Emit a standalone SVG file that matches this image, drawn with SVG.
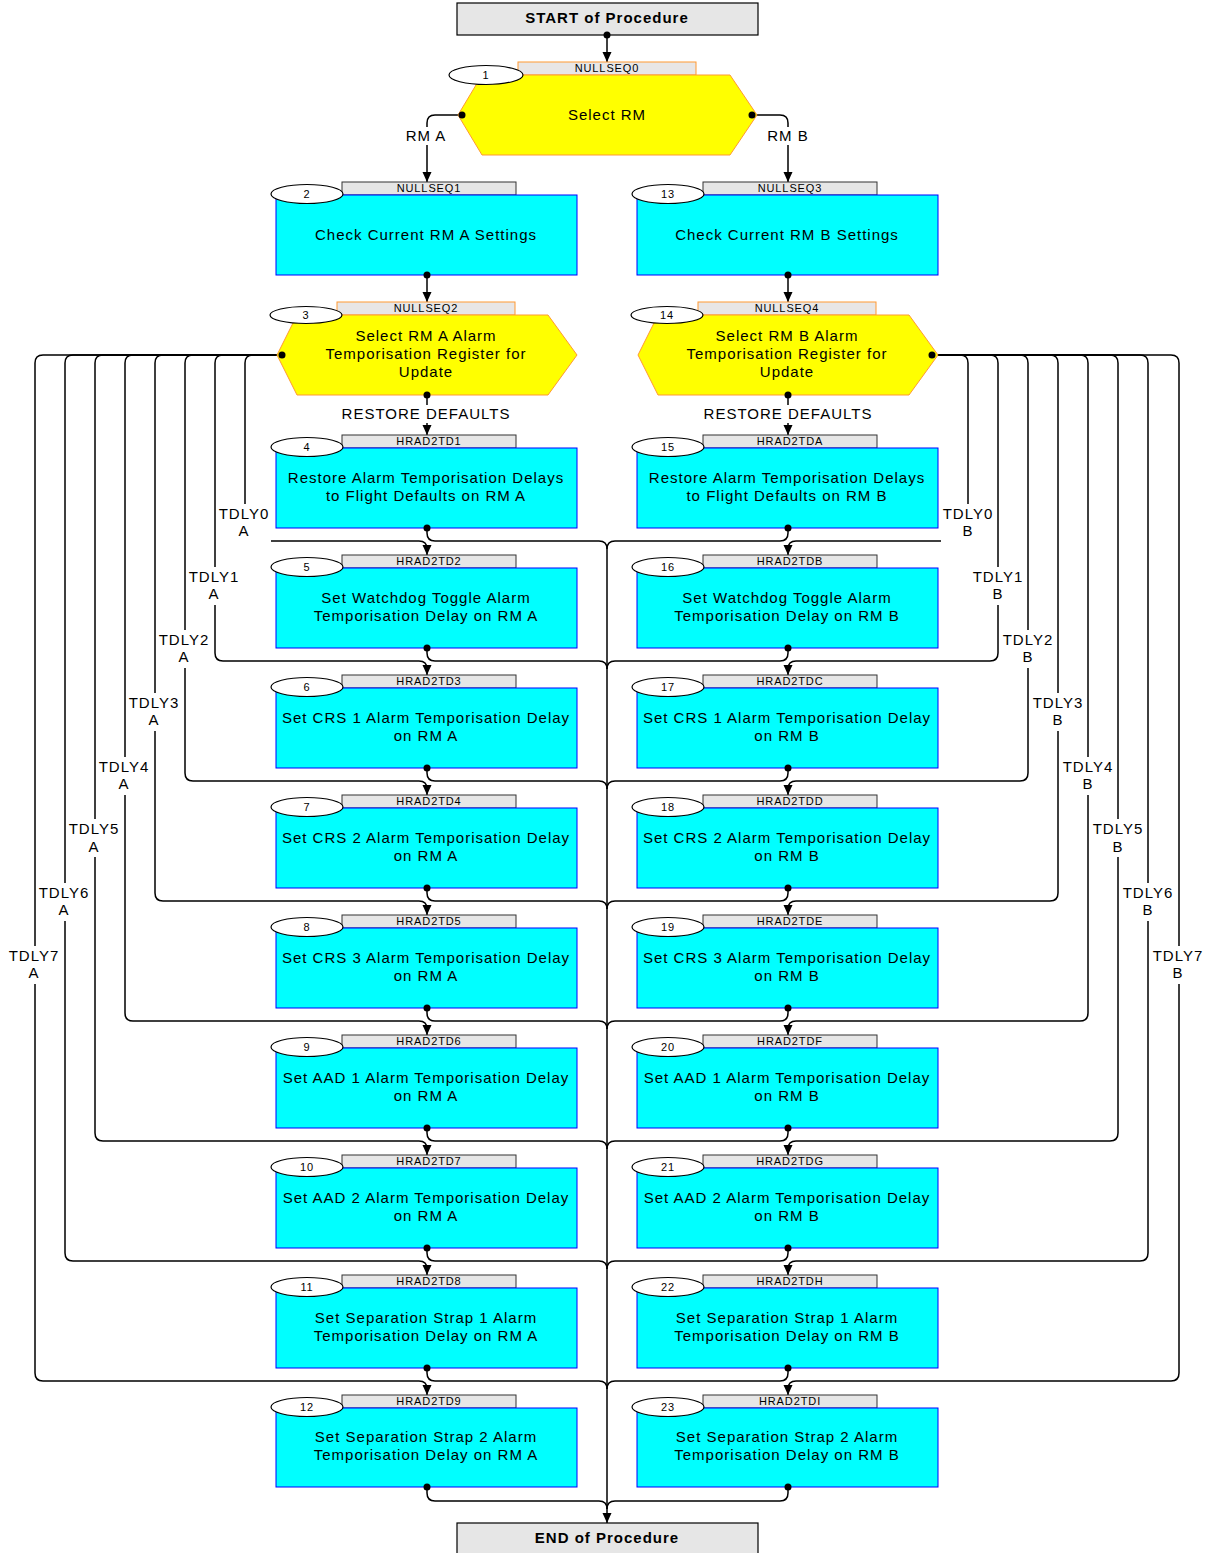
<svg xmlns="http://www.w3.org/2000/svg" width="1211" height="1553" viewBox="0 0 1211 1553">
<defs>
<marker id="ar" markerWidth="10" markerHeight="10" refX="10" refY="5" orient="auto" markerUnits="userSpaceOnUse"><path d="M0,0.5 L10,5 L0,9.5 Z" fill="#000"/></marker>
<style>
.box{fill:#00ffff;stroke:#0000ff;stroke-width:1}
.hex{fill:#ffff00;stroke:#ff9933;stroke-width:1}
.tab{fill:#e6e6e6;stroke:#333;stroke-width:1}
.tabo{fill:#e8e6e6;stroke:#ff9933;stroke-width:1}
.term{fill:#e6e6e6;stroke:#000;stroke-width:1.2}
.num{fill:#fff;stroke:#000;stroke-width:1.2}
text{font-family:"Liberation Sans",Arial,sans-serif;font-size:15px;text-anchor:middle;fill:#000;letter-spacing:1px}
.s{font-size:11px;letter-spacing:0.9px}
.b{font-weight:bold}
.c{fill:none;stroke:#000;stroke-width:1.5}
.a{marker-end:url(#ar)}
.d{fill:#000}
.bg{fill:#fff}
</style>
</defs>
<rect width="1211" height="1553" fill="#fff"/>

<g id="connectors">
<path class="c a" d="M607 35 V62"/>
<path class="c a" d="M462 115 H435 Q427 115 427 123 V182"/>
<path class="c a" d="M752 115 H780 Q788 115 788 123 V182"/>
<path class="c a" d="M427 275 V302"/>
<path class="c a" d="M788 275 V302"/>
<path class="c a" d="M427 395 V435"/>
<path class="c a" d="M788 395 V435"/>
<path class="c a" d="M282 355 H253 Q245 355 245 363 V533 Q245 541 253 541 H419 Q427 541 427 549 V555"/>
<path class="c a" d="M282 355 H223 Q215 355 215 363 V653 Q215 661 223 661 H419 Q427 661 427 669 V675"/>
<path class="c a" d="M282 355 H193 Q185 355 185 363 V773 Q185 781 193 781 H419 Q427 781 427 789 V795"/>
<path class="c a" d="M282 355 H163 Q155 355 155 363 V893 Q155 901 163 901 H419 Q427 901 427 909 V915"/>
<path class="c a" d="M282 355 H133 Q125 355 125 363 V1013 Q125 1021 133 1021 H419 Q427 1021 427 1029 V1035"/>
<path class="c a" d="M282 355 H103 Q95 355 95 363 V1133 Q95 1141 103 1141 H419 Q427 1141 427 1149 V1155"/>
<path class="c a" d="M282 355 H73 Q65 355 65 363 V1253 Q65 1261 73 1261 H419 Q427 1261 427 1269 V1275"/>
<path class="c a" d="M282 355 H43 Q35 355 35 363 V1373 Q35 1381 43 1381 H419 Q427 1381 427 1389 V1395"/>
<path class="c a" d="M932 355 H960 Q968 355 968 363 V533 Q968 541 960 541 H796 Q788 541 788 549 V555"/>
<path class="c a" d="M932 355 H990 Q998 355 998 363 V653 Q998 661 990 661 H796 Q788 661 788 669 V675"/>
<path class="c a" d="M932 355 H1020 Q1028 355 1028 363 V773 Q1028 781 1020 781 H796 Q788 781 788 789 V795"/>
<path class="c a" d="M932 355 H1050 Q1058 355 1058 363 V893 Q1058 901 1050 901 H796 Q788 901 788 909 V915"/>
<path class="c a" d="M932 355 H1080 Q1088 355 1088 363 V1013 Q1088 1021 1080 1021 H796 Q788 1021 788 1029 V1035"/>
<path class="c a" d="M932 355 H1110 Q1118 355 1118 363 V1133 Q1118 1141 1110 1141 H796 Q788 1141 788 1149 V1155"/>
<path class="c a" d="M932 355 H1140 Q1148 355 1148 363 V1253 Q1148 1261 1140 1261 H796 Q788 1261 788 1269 V1275"/>
<path class="c a" d="M932 355 H1171 Q1179 355 1179 363 V1373 Q1179 1381 1171 1381 H796 Q788 1381 788 1389 V1395"/>
<path class="c" d="M427 528 V533 Q427 541 435 541 H599 Q607 541 607 549"/>
<path class="c" d="M427 648 V653 Q427 661 435 661 H599 Q607 661 607 669"/>
<path class="c" d="M427 768 V773 Q427 781 435 781 H599 Q607 781 607 789"/>
<path class="c" d="M427 888 V893 Q427 901 435 901 H599 Q607 901 607 909"/>
<path class="c" d="M427 1008 V1013 Q427 1021 435 1021 H599 Q607 1021 607 1029"/>
<path class="c" d="M427 1128 V1133 Q427 1141 435 1141 H599 Q607 1141 607 1149"/>
<path class="c" d="M427 1248 V1253 Q427 1261 435 1261 H599 Q607 1261 607 1269"/>
<path class="c" d="M427 1368 V1373 Q427 1381 435 1381 H599 Q607 1381 607 1389"/>
<path class="c" d="M427 1487 V1493 Q427 1501 435 1501 H599 Q607 1501 607 1509"/>
<path class="c" d="M788 528 V533 Q788 541 780 541 H615 Q607 541 607 549"/>
<path class="c" d="M788 648 V653 Q788 661 780 661 H615 Q607 661 607 669"/>
<path class="c" d="M788 768 V773 Q788 781 780 781 H615 Q607 781 607 789"/>
<path class="c" d="M788 888 V893 Q788 901 780 901 H615 Q607 901 607 909"/>
<path class="c" d="M788 1008 V1013 Q788 1021 780 1021 H615 Q607 1021 607 1029"/>
<path class="c" d="M788 1128 V1133 Q788 1141 780 1141 H615 Q607 1141 607 1149"/>
<path class="c" d="M788 1248 V1253 Q788 1261 780 1261 H615 Q607 1261 607 1269"/>
<path class="c" d="M788 1368 V1373 Q788 1381 780 1381 H615 Q607 1381 607 1389"/>
<path class="c" d="M788 1487 V1493 Q788 1501 780 1501 H615 Q607 1501 607 1509"/>
<path class="c a" d="M607 549 V1523"/>
<rect class="bg" x="402" y="127" width="50" height="18"/><text x="426" y="141">RM A</text>
<rect class="bg" x="763" y="127" width="50" height="18"/><text x="788" y="141">RM B</text>
<rect class="bg" x="336" y="405" width="182" height="18"/><text x="426" y="419">RESTORE DEFAULTS</text>
<rect class="bg" x="698" y="405" width="182" height="18"/><text x="788" y="419">RESTORE DEFAULTS</text>
<rect class="bg" x="217" y="504" width="54" height="40"/><text x="244" y="519">TDLY0</text><text x="244" y="536">A</text>
<rect class="bg" x="187" y="567" width="54" height="38"/><text x="214" y="582">TDLY1</text><text x="214" y="599">A</text>
<rect class="bg" x="157" y="630" width="54" height="38"/><text x="184" y="645">TDLY2</text><text x="184" y="662">A</text>
<rect class="bg" x="127" y="693" width="54" height="38"/><text x="154" y="708">TDLY3</text><text x="154" y="725">A</text>
<rect class="bg" x="97" y="757" width="54" height="38"/><text x="124" y="772">TDLY4</text><text x="124" y="789">A</text>
<rect class="bg" x="67" y="819" width="54" height="38"/><text x="94" y="834">TDLY5</text><text x="94" y="852">A</text>
<rect class="bg" x="37" y="883" width="54" height="38"/><text x="64" y="898">TDLY6</text><text x="64" y="915">A</text>
<rect class="bg" x="7" y="946" width="54" height="38"/><text x="34" y="961">TDLY7</text><text x="34" y="978">A</text>
<rect class="bg" x="941" y="504" width="54" height="40"/><text x="968" y="519">TDLY0</text><text x="968" y="536">B</text>
<rect class="bg" x="971" y="567" width="54" height="38"/><text x="998" y="582">TDLY1</text><text x="998" y="599">B</text>
<rect class="bg" x="1001" y="630" width="54" height="38"/><text x="1028" y="645">TDLY2</text><text x="1028" y="662">B</text>
<rect class="bg" x="1031" y="693" width="54" height="38"/><text x="1058" y="708">TDLY3</text><text x="1058" y="725">B</text>
<rect class="bg" x="1061" y="757" width="54" height="38"/><text x="1088" y="772">TDLY4</text><text x="1088" y="789">B</text>
<rect class="bg" x="1091" y="819" width="54" height="38"/><text x="1118" y="834">TDLY5</text><text x="1118" y="852">B</text>
<rect class="bg" x="1121" y="883" width="54" height="38"/><text x="1148" y="898">TDLY6</text><text x="1148" y="915">B</text>
<rect class="bg" x="1151" y="946" width="54" height="38"/><text x="1178" y="961">TDLY7</text><text x="1178" y="978">B</text>
</g>

<g id="start"><rect class="term" x="457" y="3" width="301" height="32"/><text class="b" x="607" y="23">START of Procedure</text></g>
<g id="end"><rect class="term" x="457" y="1523" width="301" height="34"/><text class="b" x="607" y="1543">END of Procedure</text></g>

<g id="n1"><rect class="tabo" x="518" y="62" width="178" height="13"/><text class="s" x="607" y="72">NULLSEQ0</text>
<polygon class="hex" points="458,115 482,75 730,75 757,115 730,155 482,155"/>
<ellipse class="num" cx="486" cy="75" rx="37" ry="9.5"/><text class="s" x="486" y="79">1</text>
<text x="607" y="120">Select RM</text></g>

<g id="n2"><rect class="tab" x="342" y="182" width="174" height="13"/><text class="s" x="429" y="192">NULLSEQ1</text>
<rect class="box" x="276" y="195" width="301" height="80"/>
<ellipse class="num" cx="307" cy="194" rx="36" ry="9.5"/><text class="s" x="307" y="198">2</text>
<text x="426" y="240">Check Current RM A Settings</text></g>

<g id="n13"><rect class="tab" x="703" y="182" width="174" height="13"/><text class="s" x="790" y="192">NULLSEQ3</text>
<rect class="box" x="637" y="195" width="301" height="80"/>
<ellipse class="num" cx="668" cy="194" rx="36" ry="9.5"/><text class="s" x="668" y="198">13</text>
<text x="787" y="240">Check Current RM B Settings</text></g>

<g id="n3"><rect class="tabo" x="337" y="302" width="178" height="13"/><text class="s" x="426" y="312">NULLSEQ2</text>
<polygon class="hex" points="277,355 297,315 548,315 577,355 548,395 297,395"/>
<ellipse class="num" cx="306" cy="315" rx="36" ry="8.5"/><text class="s" x="306" y="319">3</text>
<text x="426" y="341">Select RM A Alarm</text><text x="426" y="359">Temporisation Register for</text><text x="426" y="377">Update</text></g>

<g id="n14"><rect class="tabo" x="698" y="302" width="178" height="13"/><text class="s" x="787" y="312">NULLSEQ4</text>
<polygon class="hex" points="638,355 658,315 909,315 938,355 909,395 658,395"/>
<ellipse class="num" cx="667" cy="315" rx="36" ry="8.5"/><text class="s" x="667" y="319">14</text>
<text x="787" y="341">Select RM B Alarm</text><text x="787" y="359">Temporisation Register for</text><text x="787" y="377">Update</text></g>

<g id="n4"><rect class="tab" x="342" y="435" width="174" height="13"/><text class="s" x="429" y="445">HRAD2TD1</text>
<rect class="box" x="276" y="448" width="301" height="80"/>
<ellipse class="num" cx="307" cy="447" rx="36" ry="9.5"/><text class="s" x="307" y="451">4</text>
<text x="426" y="483">Restore Alarm Temporisation Delays</text><text x="426" y="501">to Flight Defaults on RM A</text></g>
<g id="n15"><rect class="tab" x="703" y="435" width="174" height="13"/><text class="s" x="790" y="445">HRAD2TDA</text>
<rect class="box" x="637" y="448" width="301" height="80"/>
<ellipse class="num" cx="668" cy="447" rx="36" ry="9.5"/><text class="s" x="668" y="451">15</text>
<text x="787" y="483">Restore Alarm Temporisation Delays</text><text x="787" y="501">to Flight Defaults on RM B</text></g>

<g id="n5"><rect class="tab" x="342" y="555" width="174" height="13"/><text class="s" x="429" y="565">HRAD2TD2</text>
<rect class="box" x="276" y="568" width="301" height="80"/>
<ellipse class="num" cx="307" cy="567" rx="36" ry="9.5"/><text class="s" x="307" y="571">5</text>
<text x="426" y="603">Set Watchdog Toggle Alarm</text><text x="426" y="621">Temporisation Delay on RM A</text></g>
<g id="n16"><rect class="tab" x="703" y="555" width="174" height="13"/><text class="s" x="790" y="565">HRAD2TDB</text>
<rect class="box" x="637" y="568" width="301" height="80"/>
<ellipse class="num" cx="668" cy="567" rx="36" ry="9.5"/><text class="s" x="668" y="571">16</text>
<text x="787" y="603">Set Watchdog Toggle Alarm</text><text x="787" y="621">Temporisation Delay on RM B</text></g>

<g id="n6"><rect class="tab" x="342" y="675" width="174" height="13"/><text class="s" x="429" y="685">HRAD2TD3</text>
<rect class="box" x="276" y="688" width="301" height="80"/>
<ellipse class="num" cx="307" cy="687" rx="36" ry="9.5"/><text class="s" x="307" y="691">6</text>
<text x="426" y="723">Set CRS 1 Alarm Temporisation Delay</text><text x="426" y="741">on RM A</text></g>
<g id="n17"><rect class="tab" x="703" y="675" width="174" height="13"/><text class="s" x="790" y="685">HRAD2TDC</text>
<rect class="box" x="637" y="688" width="301" height="80"/>
<ellipse class="num" cx="668" cy="687" rx="36" ry="9.5"/><text class="s" x="668" y="691">17</text>
<text x="787" y="723">Set CRS 1 Alarm Temporisation Delay</text><text x="787" y="741">on RM B</text></g>

<g id="n7"><rect class="tab" x="342" y="795" width="174" height="13"/><text class="s" x="429" y="805">HRAD2TD4</text>
<rect class="box" x="276" y="808" width="301" height="80"/>
<ellipse class="num" cx="307" cy="807" rx="36" ry="9.5"/><text class="s" x="307" y="811">7</text>
<text x="426" y="843">Set CRS 2 Alarm Temporisation Delay</text><text x="426" y="861">on RM A</text></g>
<g id="n18"><rect class="tab" x="703" y="795" width="174" height="13"/><text class="s" x="790" y="805">HRAD2TDD</text>
<rect class="box" x="637" y="808" width="301" height="80"/>
<ellipse class="num" cx="668" cy="807" rx="36" ry="9.5"/><text class="s" x="668" y="811">18</text>
<text x="787" y="843">Set CRS 2 Alarm Temporisation Delay</text><text x="787" y="861">on RM B</text></g>

<g id="n8"><rect class="tab" x="342" y="915" width="174" height="13"/><text class="s" x="429" y="925">HRAD2TD5</text>
<rect class="box" x="276" y="928" width="301" height="80"/>
<ellipse class="num" cx="307" cy="927" rx="36" ry="9.5"/><text class="s" x="307" y="931">8</text>
<text x="426" y="963">Set CRS 3 Alarm Temporisation Delay</text><text x="426" y="981">on RM A</text></g>
<g id="n19"><rect class="tab" x="703" y="915" width="174" height="13"/><text class="s" x="790" y="925">HRAD2TDE</text>
<rect class="box" x="637" y="928" width="301" height="80"/>
<ellipse class="num" cx="668" cy="927" rx="36" ry="9.5"/><text class="s" x="668" y="931">19</text>
<text x="787" y="963">Set CRS 3 Alarm Temporisation Delay</text><text x="787" y="981">on RM B</text></g>

<g id="n9"><rect class="tab" x="342" y="1035" width="174" height="13"/><text class="s" x="429" y="1045">HRAD2TD6</text>
<rect class="box" x="276" y="1048" width="301" height="80"/>
<ellipse class="num" cx="307" cy="1047" rx="36" ry="9.5"/><text class="s" x="307" y="1051">9</text>
<text x="426" y="1083">Set AAD 1 Alarm Temporisation Delay</text><text x="426" y="1101">on RM A</text></g>
<g id="n20"><rect class="tab" x="703" y="1035" width="174" height="13"/><text class="s" x="790" y="1045">HRAD2TDF</text>
<rect class="box" x="637" y="1048" width="301" height="80"/>
<ellipse class="num" cx="668" cy="1047" rx="36" ry="9.5"/><text class="s" x="668" y="1051">20</text>
<text x="787" y="1083">Set AAD 1 Alarm Temporisation Delay</text><text x="787" y="1101">on RM B</text></g>

<g id="n10"><rect class="tab" x="342" y="1155" width="174" height="13"/><text class="s" x="429" y="1165">HRAD2TD7</text>
<rect class="box" x="276" y="1168" width="301" height="80"/>
<ellipse class="num" cx="307" cy="1167" rx="36" ry="9.5"/><text class="s" x="307" y="1171">10</text>
<text x="426" y="1203">Set AAD 2 Alarm Temporisation Delay</text><text x="426" y="1221">on RM A</text></g>
<g id="n21"><rect class="tab" x="703" y="1155" width="174" height="13"/><text class="s" x="790" y="1165">HRAD2TDG</text>
<rect class="box" x="637" y="1168" width="301" height="80"/>
<ellipse class="num" cx="668" cy="1167" rx="36" ry="9.5"/><text class="s" x="668" y="1171">21</text>
<text x="787" y="1203">Set AAD 2 Alarm Temporisation Delay</text><text x="787" y="1221">on RM B</text></g>

<g id="n11"><rect class="tab" x="342" y="1275" width="174" height="13"/><text class="s" x="429" y="1285">HRAD2TD8</text>
<rect class="box" x="276" y="1288" width="301" height="80"/>
<ellipse class="num" cx="307" cy="1287" rx="36" ry="9.5"/><text class="s" x="307" y="1291">11</text>
<text x="426" y="1323">Set Separation Strap 1 Alarm</text><text x="426" y="1341">Temporisation Delay on RM A</text></g>
<g id="n22"><rect class="tab" x="703" y="1275" width="174" height="13"/><text class="s" x="790" y="1285">HRAD2TDH</text>
<rect class="box" x="637" y="1288" width="301" height="80"/>
<ellipse class="num" cx="668" cy="1287" rx="36" ry="9.5"/><text class="s" x="668" y="1291">22</text>
<text x="787" y="1323">Set Separation Strap 1 Alarm</text><text x="787" y="1341">Temporisation Delay on RM B</text></g>

<g id="n12"><rect class="tab" x="342" y="1395" width="174" height="13"/><text class="s" x="429" y="1405">HRAD2TD9</text>
<rect class="box" x="276" y="1408" width="301" height="79"/>
<ellipse class="num" cx="307" cy="1407" rx="36" ry="9.5"/><text class="s" x="307" y="1411">12</text>
<text x="426" y="1442">Set Separation Strap 2 Alarm</text><text x="426" y="1460">Temporisation Delay on RM A</text></g>
<g id="n23"><rect class="tab" x="703" y="1395" width="174" height="13"/><text class="s" x="790" y="1405">HRAD2TDI</text>
<rect class="box" x="637" y="1408" width="301" height="79"/>
<ellipse class="num" cx="668" cy="1407" rx="36" ry="9.5"/><text class="s" x="668" y="1411">23</text>
<text x="787" y="1442">Set Separation Strap 2 Alarm</text><text x="787" y="1460">Temporisation Delay on RM B</text></g>

<g id="connector-dots">
<circle class="d" cx="607" cy="35" r="3.5"/>
<circle class="d" cx="462" cy="115" r="3.5"/>
<circle class="d" cx="752" cy="115" r="3.5"/>
<circle class="d" cx="427" cy="275" r="3.5"/>
<circle class="d" cx="788" cy="275" r="3.5"/>
<circle class="d" cx="427" cy="395" r="3.5"/>
<circle class="d" cx="788" cy="395" r="3.5"/>
<circle class="d" cx="282" cy="355" r="3.5"/>
<circle class="d" cx="932" cy="355" r="3.5"/>
<circle class="d" cx="427" cy="528" r="3.5"/><circle class="d" cx="788" cy="528" r="3.5"/>
<circle class="d" cx="427" cy="648" r="3.5"/><circle class="d" cx="788" cy="648" r="3.5"/>
<circle class="d" cx="427" cy="768" r="3.5"/><circle class="d" cx="788" cy="768" r="3.5"/>
<circle class="d" cx="427" cy="888" r="3.5"/><circle class="d" cx="788" cy="888" r="3.5"/>
<circle class="d" cx="427" cy="1008" r="3.5"/><circle class="d" cx="788" cy="1008" r="3.5"/>
<circle class="d" cx="427" cy="1128" r="3.5"/><circle class="d" cx="788" cy="1128" r="3.5"/>
<circle class="d" cx="427" cy="1248" r="3.5"/><circle class="d" cx="788" cy="1248" r="3.5"/>
<circle class="d" cx="427" cy="1368" r="3.5"/><circle class="d" cx="788" cy="1368" r="3.5"/>
<circle class="d" cx="427" cy="1487" r="3.5"/><circle class="d" cx="788" cy="1487" r="3.5"/>
</g>
</svg>
